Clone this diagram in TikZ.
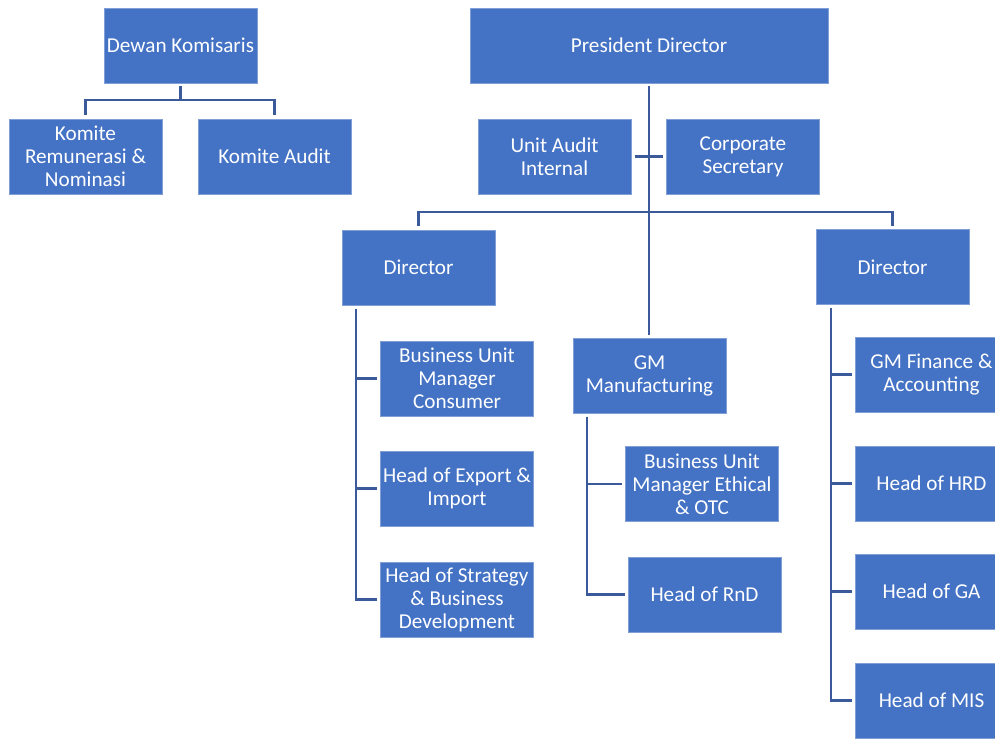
\documentclass[tikz,border=0pt]{standalone}
\usepackage{fontspec}
\setmainfont{Carlito}
\definecolor{boxblue}{HTML}{4472C4}
\definecolor{boxedge}{HTML}{7F9FD6}
\definecolor{lineblue}{HTML}{3A5A9C}
\begin{document}
\begin{tikzpicture}[x=1pt,y=-1pt,
  orgbox/.style={fill=boxblue, draw=boxedge, line width=0.6pt, text=white,
    font=\fontsize{21.2}{23}\selectfont, align=center,
    minimum width=153pt, minimum height=75pt, inner sep=0pt, outer sep=3.5pt},
  conn/.style={draw=lineblue, line width=2.6pt}]
\useasboundingbox (0,0) rectangle (995,743);
\clip (0,0) rectangle (995,743);

% boxes
\node[orgbox] (dk) at (180.5,45.5) {Dewan Komisaris};
\node[orgbox] (krn) at (85.5,156.5) {Komite\\Remunerasi \&\\Nominasi};
\node[orgbox] (ka) at (274.5,156.5) {Komite Audit};

\node[orgbox, minimum width=358pt] (pd) at (649,45.5) {President Director};
\node[orgbox] (uai) at (554.5,156.5) {Unit Audit\\Internal};
\node[orgbox] (cs) at (743,156.5) {Corporate\\Secretary};

\node[orgbox] (dl) at (418.5,267.5) {Director};
\node[orgbox] (dr) at (892.5,267) {Director};

\node[orgbox] (bumc) at (457,378.5) {Business Unit\\Manager\\Consumer};
\node[orgbox] (hei) at (457,488.5) {Head of Export \&\\Import};
\node[orgbox] (hsb) at (457,599.5) {Head of Strategy\\\& Business\\Development};

\node[orgbox] (gmm) at (649.5,375.5) {GM\\Manufacturing};
\node[orgbox] (bume) at (702,484) {Business Unit\\Manager Ethical\\\& OTC};
\node[orgbox] (hrnd) at (704.5,594.5) {Head of RnD};

\node[orgbox] (gmf) at (931.5,374.5) {GM Finance \&\\Accounting};
\node[orgbox] (hrd) at (931.5,483.5) {Head of HRD};
\node[orgbox] (hga) at (931.5,591.5) {Head of GA};
\node[orgbox] (hmis) at (931.5,700.5) {Head of MIS};

% connectors
\draw[conn] (dk.south) -- ++(0,13.5) -| (krn.north);
\draw[conn] (dk.south) -- ++(0,13.5) -| (ka.north);

\draw[conn] (pd.south) -- (pd.south |- gmm.north);
\draw[conn] (uai.east) -- (cs.west);
\draw[conn] (dl.north) -- ++(0,-14.5) -| (dr.north);

\coordinate (dlb) at ([xshift=-62.5pt]dl.south);
\draw[conn] (dlb) |- (bumc.west);
\draw[conn] (dlb) |- (hei.west);
\draw[conn] (dlb) |- (hsb.west);

\coordinate (gmb) at ([xshift=-62.5pt]gmm.south);
\draw[conn] (gmb) |- (bume.west);
\draw[conn] (gmb) |- (hrnd.west);

\coordinate (drb) at ([xshift=-61.5pt]dr.south);
\draw[conn] (drb) |- (gmf.west);
\draw[conn] (drb) |- (hrd.west);
\draw[conn] (drb) |- (hga.west);
\draw[conn] (drb) |- (hmis.west);
\end{tikzpicture}
\end{document}
